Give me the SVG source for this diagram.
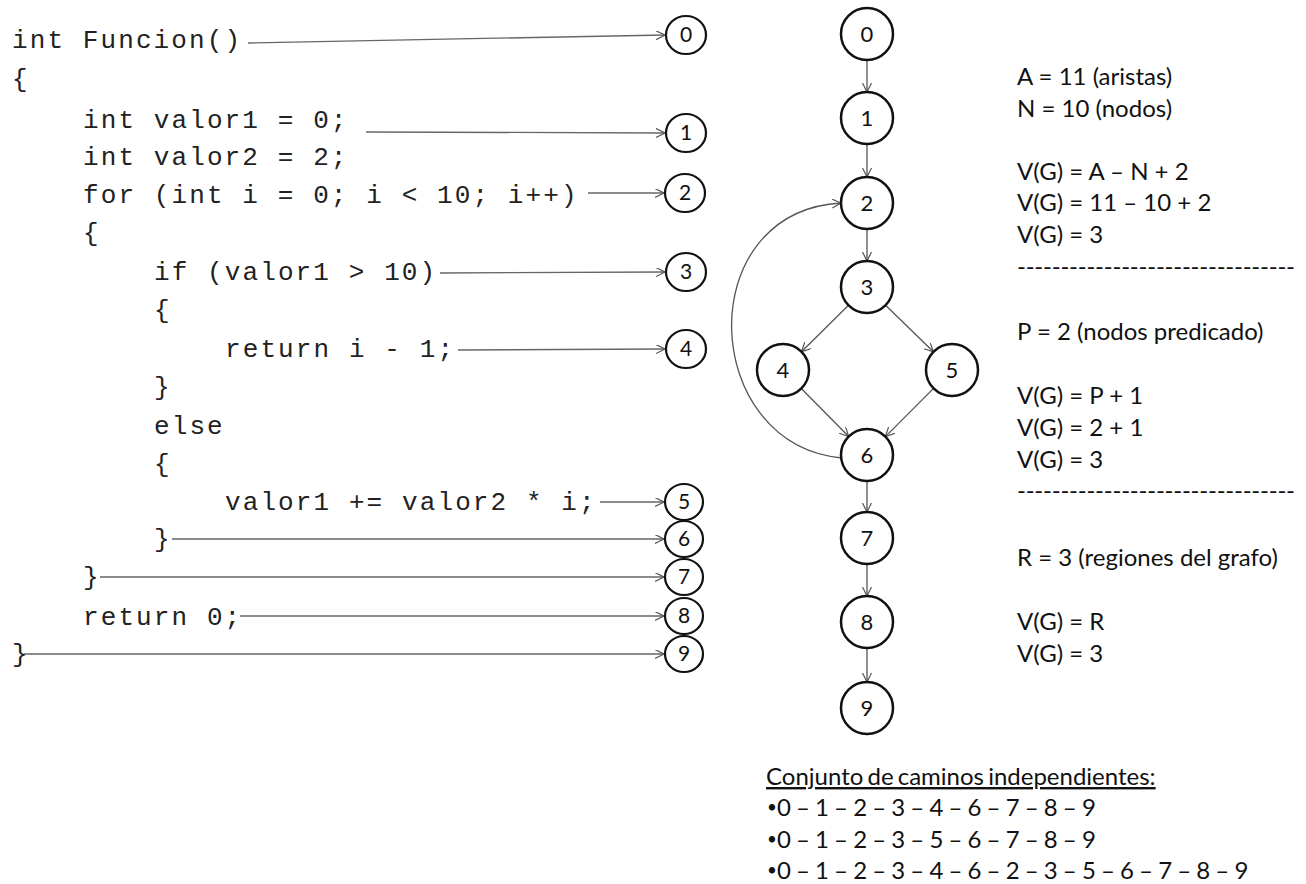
<svg xmlns="http://www.w3.org/2000/svg" width="1306" height="884" viewBox="0 0 1306 884">
  <defs>
    <marker id="chev" markerWidth="12" markerHeight="12" refX="9" refY="4.5" orient="auto" markerUnits="userSpaceOnUse">
      <path d="M0,0 L9,4.5 L0,9" fill="none" stroke="#555" stroke-width="1.2"/>
    </marker>
    <style>
      .code { font-family: "Liberation Mono", "Courier New", monospace; font-size: 26px; letter-spacing: 2.1px; fill: #222; }
      .txt { font-family: Lato, "Open Sans", sans-serif; font-size: 24px; fill: #111; }
      .rule { font-family: Lato, "Open Sans", sans-serif; font-size: 24px; fill: #111; }
      .path { font-family: Lato, "Open Sans", sans-serif; font-size: 24px; fill: #111; word-spacing: -1px; }
      .bul { font-size: 17px; }
      .lbl { font-family: Lato, "Open Sans", sans-serif; font-size: 22px; fill: #111; text-anchor: middle; }
      .slbl { font-family: Lato, "Open Sans", sans-serif; font-size: 21px; fill: #111; text-anchor: middle; }
      .node { fill: #fff; stroke: #111; stroke-width: 2.5; }
      .snode { fill: #fff; stroke: #111; stroke-width: 2.2; }
      .edge { fill: none; stroke: #555; stroke-width: 1.3; marker-end: url(#chev); }
      .ptr { fill: none; stroke: #666; stroke-width: 1.3; marker-end: url(#chev); }
    </style>
  </defs>
  <rect width="1306" height="884" fill="#fff"/>

  <!-- source code listing -->
  <g id="code">
    <text class="code" x="12" y="48">int Funcion()</text>
    <text class="code" x="12" y="87">{</text>
    <text class="code" x="83" y="128">int valor1 = 0;</text>
    <text class="code" x="83" y="165">int valor2 = 2;</text>
    <text class="code" x="83" y="203">for (int i = 0; i &lt; 10; i++)</text>
    <text class="code" x="83" y="241">{</text>
    <text class="code" x="154" y="280">if (valor1 &gt; 10)</text>
    <text class="code" x="154" y="318">{</text>
    <text class="code" x="225" y="357">return i - 1;</text>
    <text class="code" x="154" y="395">}</text>
    <text class="code" x="154" y="434">else</text>
    <text class="code" x="154" y="472">{</text>
    <text class="code" x="225" y="510">valor1 += valor2 * i;</text>
    <text class="code" x="154" y="547">}</text>
    <text class="code" x="83" y="585">}</text>
    <text class="code" x="83" y="625">return 0;</text>
    <text class="code" x="12" y="662">}</text>
  </g>

  <!-- pointers from code lines to node numbers -->
  <g id="pointers">
    <path class="ptr" d="M248,43 L665,35"/>
    <path class="ptr" d="M366,132 L665,133"/>
    <path class="ptr" d="M588,193 L664,193"/>
    <path class="ptr" d="M440,273 L665,272"/>
    <path class="ptr" d="M458,350 L665,349"/>
    <path class="ptr" d="M600,502 L664,502"/>
    <path class="ptr" d="M172,539 L664,539"/>
    <path class="ptr" d="M100,577 L664,577"/>
    <path class="ptr" d="M240,616 L664,616"/>
    <path class="ptr" d="M24,654 L664,654"/>
  </g>

  <!-- node numbers beside the code -->
  <g id="s0"><ellipse class="snode" cx="686" cy="35" rx="20" ry="19"/><text class="slbl" x="686" y="42">0</text></g>
  <g id="s1"><ellipse class="snode" cx="686" cy="133" rx="20" ry="19"/><text class="slbl" x="686" y="140">1</text></g>
  <g id="s2"><ellipse class="snode" cx="685" cy="193" rx="20" ry="19"/><text class="slbl" x="685" y="200">2</text></g>
  <g id="s3"><ellipse class="snode" cx="686" cy="272" rx="20" ry="19"/><text class="slbl" x="686" y="279">3</text></g>
  <g id="s4"><ellipse class="snode" cx="686" cy="349" rx="20" ry="19"/><text class="slbl" x="686" y="356">4</text></g>
  <g id="s5"><ellipse class="snode" cx="684" cy="502" rx="19" ry="18"/><text class="slbl" x="684" y="509">5</text></g>
  <g id="s6"><ellipse class="snode" cx="684" cy="539" rx="19" ry="18"/><text class="slbl" x="684" y="546">6</text></g>
  <g id="s7"><ellipse class="snode" cx="684" cy="577" rx="19" ry="18"/><text class="slbl" x="684" y="584">7</text></g>
  <g id="s8"><ellipse class="snode" cx="684" cy="616" rx="19" ry="18"/><text class="slbl" x="684" y="623">8</text></g>
  <g id="s9"><ellipse class="snode" cx="684" cy="654" rx="19" ry="18"/><text class="slbl" x="684" y="661">9</text></g>

  <!-- flow graph edges -->
  <g id="edges">
    <path class="edge" d="M867,60 L867,92"/>
    <path class="edge" d="M867,144 L867,177"/>
    <path class="edge" d="M867,229 L867,261"/>
    <path class="edge" d="M848.5,305.3 L801.5,351.7"/>
    <path class="edge" d="M885.6,305.2 L933.4,351.8"/>
    <path class="edge" d="M801.3,388.5 L848.7,436.5"/>
    <path class="edge" d="M933.6,388.4 L885.4,436.6"/>
    <path class="edge" d="M842,458 C700,445 690,212 841,203"/>
    <path class="edge" d="M867,481 L867,512"/>
    <path class="edge" d="M867,564 L867,596"/>
    <path class="edge" d="M867,648 L867,682"/>
  </g>

  <!-- flow graph nodes -->
  <g id="n0"><circle class="node" cx="867" cy="34" r="26"/><text class="lbl" x="867" y="42">0</text></g>
  <g id="n1"><circle class="node" cx="867" cy="118" r="26"/><text class="lbl" x="867" y="126">1</text></g>
  <g id="n2"><circle class="node" cx="867" cy="203" r="26"/><text class="lbl" x="867" y="211">2</text></g>
  <g id="n3"><circle class="node" cx="867" cy="287" r="26"/><text class="lbl" x="867" y="295">3</text></g>
  <g id="n4"><circle class="node" cx="783" cy="370" r="26"/><text class="lbl" x="783" y="378">4</text></g>
  <g id="n5"><circle class="node" cx="952" cy="370" r="26"/><text class="lbl" x="952" y="378">5</text></g>
  <g id="n6"><circle class="node" cx="867" cy="455" r="26"/><text class="lbl" x="867" y="463">6</text></g>
  <g id="n7"><circle class="node" cx="867" cy="538" r="26"/><text class="lbl" x="867" y="546">7</text></g>
  <g id="n8"><circle class="node" cx="867" cy="622" r="26"/><text class="lbl" x="867" y="630">8</text></g>
  <g id="n9"><circle class="node" cx="867" cy="708" r="26"/><text class="lbl" x="867" y="716">9</text></g>

  <!-- cyclomatic complexity notes -->
  <g id="notes">
    <text class="txt" x="1017" y="85">A = 11 (aristas)</text>
    <text class="txt" x="1017" y="117">N = 10 (nodos)</text>
    <text class="txt" x="1017" y="180">V(G) = A – N + 2</text>
    <text class="txt" x="1017" y="211">V(G) = 11 – 10 + 2</text>
    <text class="txt" x="1017" y="243">V(G) = 3</text>
    <text class="rule" x="1017" y="275" textLength="278" lengthAdjust="spacing">--------------------------------</text>
    <text class="txt" x="1017" y="340">P = 2 (nodos predicado)</text>
    <text class="txt" x="1017" y="404">V(G) = P + 1</text>
    <text class="txt" x="1017" y="436">V(G) = 2 + 1</text>
    <text class="txt" x="1017" y="468">V(G) = 3</text>
    <text class="rule" x="1017" y="499" textLength="278" lengthAdjust="spacing">--------------------------------</text>
    <text class="txt" x="1017" y="566">R = 3 (regiones del grafo)</text>
    <text class="txt" x="1017" y="630">V(G) = R</text>
    <text class="txt" x="1017" y="662">V(G) = 3</text>
  </g>

  <!-- independent paths -->
  <g id="paths">
    <text class="txt" x="766" y="785" word-spacing="-2" text-decoration="underline">Conjunto de caminos independientes:</text>
    <text class="path" x="767" y="816"><tspan class="bul" dy="-3">•</tspan><tspan dy="3">0 – 1 – 2 – 3 – 4 – 6 – 7 – 8 – 9</tspan></text>
    <text class="path" x="767" y="848"><tspan class="bul" dy="-3">•</tspan><tspan dy="3">0 – 1 – 2 – 3 – 5 – 6 – 7 – 8 – 9</tspan></text>
    <text class="path" x="767" y="879"><tspan class="bul" dy="-3">•</tspan><tspan dy="3">0 – 1 – 2 – 3 – 4 – 6 – 2 – 3 – 5 – 6 – 7 – 8 – 9</tspan></text>
  </g>
</svg>
